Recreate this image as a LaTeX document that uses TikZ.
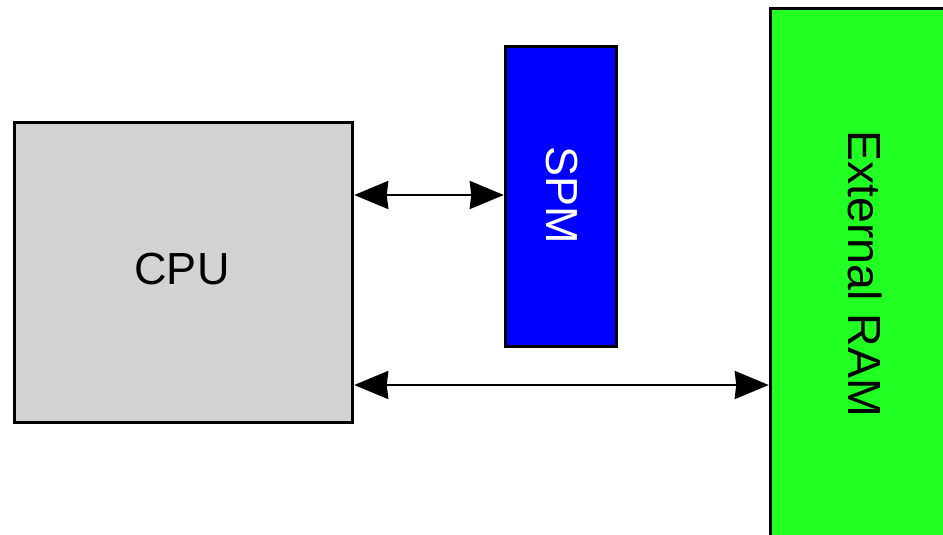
\documentclass[tikz,border=0pt]{standalone}
\usepackage{fontspec}
\setmainfont{Liberation Sans}
\usetikzlibrary{arrows.meta}
\definecolor{cpugray}{RGB}{211,211,211}
\definecolor{spmblue}{RGB}{0,0,255}
\definecolor{ramgreen}{RGB}{34,255,34}
\tikzset{
  block/.style={draw=black, line width=3.5pt, rectangle, inner sep=0pt},
  blocktext/.style={font=\fontsize{45}{54}\selectfont, inner sep=0pt},
  link/.style={line width=2.5pt, {Stealth[length=34pt,width=28pt,inset=1.5pt]}-{Stealth[length=34pt,width=28pt,inset=1.5pt]}}
}
\begin{document}
\begin{tikzpicture}[x=1pt,y=-1pt]
\useasboundingbox (0,0) rectangle (943,535);
\clip (0,0) rectangle (943,535);
\node[block, fill=cpugray, minimum width=338pt, minimum height=300pt] (cpu) at (183.5,272.5) {};
\node[blocktext] (cputext) at (182,269) {CPU};
\node[block, fill=spmblue, minimum width=111pt, minimum height=300pt] (spm) at (561,196.5) {};
\node[blocktext, text=white, rotate=-90] (spmtext) at (562,195) {SPM};
\node[block, fill=ramgreen, minimum width=189.5pt, minimum height=551.5pt] (ram) at (865.25,284.25) {};
\node[blocktext, font=\fontsize{46.5}{56}\selectfont, rotate=-90] (ramtext) at (865,273.5) {External RAM};
\coordinate (y1) at (0,195);
\coordinate (y2) at (0,385);
\draw[link] (cpu.east |- y1) -- (spm.west |- y1);
\draw[link] (cpu.east |- y2) -- (ram.west |- y2);
\end{tikzpicture}
\end{document}
